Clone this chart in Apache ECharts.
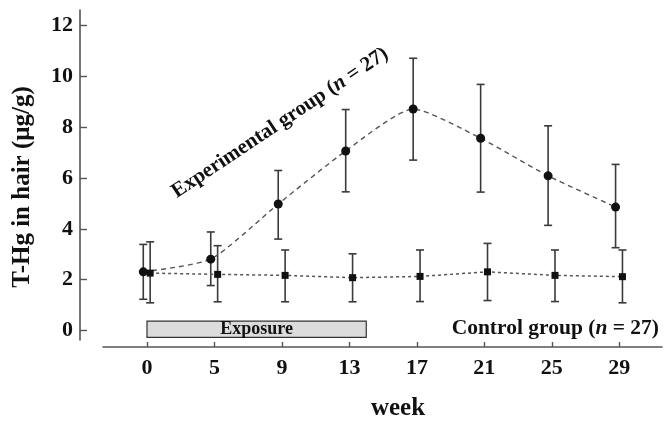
<!DOCTYPE html>
<html>
<head>
<meta charset="utf-8">
<script src="https://cdn.jsdelivr.net/npm/echarts@6/dist/echarts.min.js"></script>
<style>
html,body{margin:0;padding:0;background:#fff;}
#chart{width:666px;height:426px;}
</style>
</head>
<body>
<div id="chart"></div>
<script>
// ---- data ----
const weekLabels = ['0', '5', '9', '13', '17', '21', '25', '29'];
const weekValues = [0, 5, 9, 13, 17, 21, 25, 29];
const expMean  = [2.31, 2.81, 4.98, 7.07, 8.72, 7.57, 6.09, 4.86];
const expUpper = [3.39, 3.88, 6.30, 8.70, 10.72, 9.69, 8.06, 6.54];
const expLower = [1.23, 1.77, 3.60, 5.46, 6.71, 5.45, 4.14, 3.26];
const ctrlMean  = [2.26, 2.21, 2.17, 2.08, 2.13, 2.31, 2.17, 2.12];
const ctrlUpper = [3.49, 3.34, 3.17, 3.02, 3.17, 3.43, 3.17, 3.17];
const ctrlLower = [1.09, 1.13, 1.13, 1.13, 1.14, 1.18, 1.14, 1.09];
const yTicks = [0, 2, 4, 6, 8, 10, 12];
const exposureWeeks = [0, 14];

// ---- helpers ----
function weekToIndex(w) {
  for (let i = 0; i < weekValues.length - 1; i++) {
    if (w >= weekValues[i] && w <= weekValues[i + 1]) {
      return i + (w - weekValues[i]) / (weekValues[i + 1] - weekValues[i]);
    }
  }
  return weekValues.length - 1;
}
const tickIdx = weekLabels.map((_, i) => i);
const EXP_SHIFT = -0.055, CTRL_SHIFT = 0.047;
const FONT = '"Liberation Serif", "Times New Roman", "DejaVu Serif", serif';

const expLine = expMean.map((v, i) => [i + EXP_SHIFT, v]);
const ctrlLine = ctrlMean.map((v, i) => [i + CTRL_SHIFT, v]);
const expErr = expMean.map((v, i) => [i + EXP_SHIFT, expLower[i], expUpper[i]]);
const ctrlErr = ctrlMean.map((v, i) => [i + CTRL_SHIFT, ctrlLower[i], ctrlUpper[i]]);
const exposureData = [[weekToIndex(exposureWeeks[0]), weekToIndex(exposureWeeks[1])]];

function errRender(params, api) {
  const x = api.value(0);
  const lo = api.coord([x, api.value(1)]);
  const hi = api.coord([x, api.value(2)]);
  const cap = 4;
  const st = { stroke: '#3a3a3a', lineWidth: 1.6 };
  return {
    type: 'group',
    children: [
      { type: 'line', shape: { x1: lo[0], y1: lo[1], x2: hi[0], y2: hi[1] }, style: st },
      { type: 'line', shape: { x1: hi[0] - cap, y1: hi[1], x2: hi[0] + cap, y2: hi[1] }, style: st },
      { type: 'line', shape: { x1: lo[0] - cap, y1: lo[1], x2: lo[0] + cap, y2: lo[1] }, style: st }
    ]
  };
}

const chart = echarts.init(document.getElementById('chart'), null, { renderer: 'canvas' });
chart.setOption({
  animation: false,
  backgroundColor: '#ffffff',
  grid: { left: 103, right: 4, top: 10, bottom: 79, containLabel: false },
  xAxis: {
    type: 'value',
    min: -0.652, max: 7.633,
    offset: 7,
    splitLine: { show: false },
    axisLine: { onZero: false, lineStyle: { color: '#555', width: 1.6 } },
    axisTick: { inside: true, length: 5, customValues: tickIdx, lineStyle: { color: '#555', width: 1.4 } },
    axisLabel: {
      customValues: tickIdx, margin: 10,
      formatter: v => weekLabels[Math.round(v)],
      fontFamily: FONT, fontWeight: 'bold', fontSize: 22, color: '#111'
    },
    name: 'week', nameLocation: 'middle', nameGap: 49,
    nameTextStyle: { fontFamily: FONT, fontWeight: 'bold', fontSize: 25, color: '#111', padding: [0, 0, 0, 31] }
  },
  yAxis: {
    type: 'value',
    min: -0.374, max: 12.62,
    offset: 23,
    splitLine: { show: false },
    axisLine: { onZero: false, lineStyle: { color: '#555', width: 1.6 } },
    axisTick: { inside: true, length: 7, customValues: yTicks, lineStyle: { color: '#555', width: 1.4 } },
    axisLabel: {
      customValues: yTicks, margin: 7,
      fontFamily: FONT, fontWeight: 'bold', fontSize: 22, color: '#111'
    },
    name: 'T-Hg in hair (μg/g)', nameLocation: 'middle', nameRotate: 90, nameGap: 45,
    nameTextStyle: { fontFamily: FONT, fontWeight: 'bold', fontSize: 25, color: '#111', padding: [0, 24, 0, 0] }
  },
  graphic: [
    {
      type: 'text', x: 280, y: 123, rotation: 33.7 * Math.PI / 180,
      style: {
        text: 'Experimental group ({i|n} = 27)',
        rich: { i: { fontStyle: 'italic', fontWeight: 'bold', fontFamily: FONT, fontSize: 21, fill: '#111' } },
        fontFamily: FONT, fontWeight: 'bold', fontSize: 21, fill: '#111',
        align: 'center', verticalAlign: 'middle'
      }
    },
    {
      type: 'text', x: 659, y: 328,
      style: {
        text: 'Control group ({i|n} = 27)',
        rich: { i: { fontStyle: 'italic', fontWeight: 'bold', fontFamily: FONT, fontSize: 21.5, fill: '#111' } },
        fontFamily: FONT, fontWeight: 'bold', fontSize: 21.5, fill: '#111',
        align: 'right', verticalAlign: 'middle'
      }
    }
  ],
  series: [
    {
      type: 'custom', name: 'Exposure',
      data: exposureData,
      encode: { x: [0, 1] },
      z: 1,
      renderItem: function (params, api) {
        const p1 = api.coord([api.value(0), 0.37]);
        const p2 = api.coord([api.value(1), -0.27]);
        return {
          type: 'rect',
          shape: { x: p1[0], y: p1[1], width: p2[0] - p1[0], height: p2[1] - p1[1] },
          style: { fill: '#dcdcdc', stroke: '#333', lineWidth: 1.2 },
          textContent: {
            style: { text: 'Exposure', fontFamily: FONT, fontWeight: 'bold', fontSize: 18, fill: '#111' }
          },
          textConfig: { position: 'inside' }
        };
      }
    },
    {
      type: 'line', name: 'Control group', data: ctrlLine, z: 3,
      symbol: 'rect', symbolSize: 7,
      itemStyle: { color: '#111' },
      lineStyle: { color: '#555', width: 1.5, type: [3, 3] }
    },
    {
      type: 'line', name: 'Experimental group', data: expLine, z: 3,
      smooth: 0.2,
      symbol: 'circle', symbolSize: 9,
      itemStyle: { color: '#111' },
      lineStyle: { color: '#555', width: 1.4, type: [5, 4] }
    },
    { type: 'custom', name: 'Control SD', data: ctrlErr, encode: { x: 0, y: [1, 2] }, renderItem: errRender, z: 2 },
    { type: 'custom', name: 'Experimental SD', data: expErr, encode: { x: 0, y: [1, 2] }, renderItem: errRender, z: 2 }
  ]
});
</script>
</body>
</html>
